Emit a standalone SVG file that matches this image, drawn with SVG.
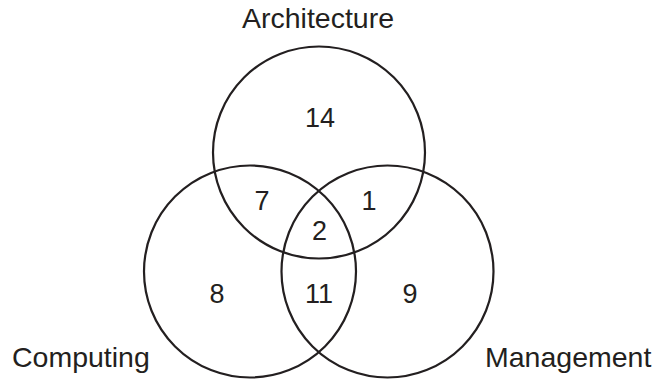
<svg xmlns="http://www.w3.org/2000/svg" width="657" height="380" viewBox="0 0 657 380">
<style>
.c{fill:none;stroke:#231f20;stroke-width:2.2}
.n{font-family:"Liberation Sans",Arial,sans-serif;font-size:27px;fill:#231f20;text-anchor:middle}
.l{font-family:"Liberation Sans",Arial,sans-serif;font-size:28.5px;fill:#231f20}
</style>
<rect width="657" height="380" fill="#ffffff"/>
<g id="architecture">
<circle class="c" cx="319" cy="152.5" r="106"/>
<text class="l" x="318" y="28" text-anchor="middle">Architecture</text>
</g>
<g id="computing">
<circle class="c" cx="250" cy="271.5" r="106"/>
<text class="l" x="12" y="367">Computing</text>
</g>
<g id="management">
<circle class="c" cx="387.5" cy="271.5" r="106"/>
<text class="l" x="485" y="367">Management</text>
</g>
<g id="counts">
<text class="n" x="320" y="127">14</text>
<text class="n" x="262" y="210">7</text>
<text class="n" x="369" y="210">1</text>
<text class="n" x="319.5" y="240">2</text>
<text class="n" x="217" y="303">8</text>
<text class="n" x="319" y="303">11</text>
<text class="n" x="410" y="303">9</text>
</g>
<g id="connectors"></g>
</svg>
